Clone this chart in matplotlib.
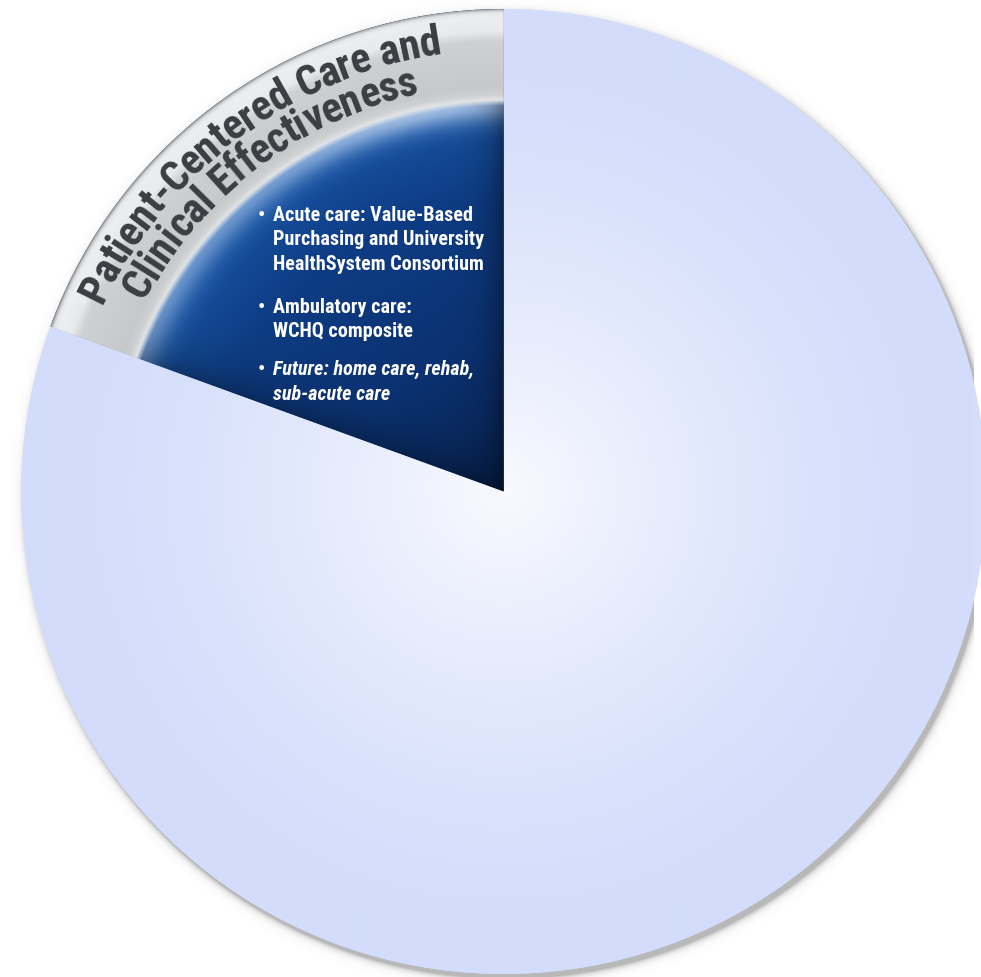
import numpy as np
import matplotlib
matplotlib.use("Agg")
import matplotlib.pyplot as plt
from matplotlib import font_manager
from matplotlib.font_manager import FontProperties
from matplotlib.textpath import TextToPath

# ---------------- data ----------------
segment_names = ["Patient-Centered Care and Clinical Effectiveness", "Other dimensions"]
segment_degrees = [70, 290]
rim_title = ["Patient-Centered Care and", "Clinical Effectiveness"]
bullet_items = [
    ["Acute care: Value-Based", "Purchasing and University", "HealthSystem Consortium"],
    ["Ambulatory care:", "WCHQ composite"],
    ["Future: home care, rehab,", "sub-acute care"],
]
bullet_italic = [False, False, True]

# ---------------- layout ----------------
W, H, DPI = 981, 978, 100
CX, CY = 504.0, 492.5
RX, RY = 490.0, 482.5
RPIX = 485.0

names = {f.name for f in font_manager.fontManager.ttflist}
COND = "Roboto Condensed" if "Roboto Condensed" in names else "DejaVu Sans"

fig = plt.figure(figsize=(W / DPI, H / DPI), dpi=DPI)
ax = fig.add_axes([0, 0, 1, 1])
wedges, _ = ax.pie(segment_degrees, startangle=90, counterclock=True, radius=1.0,
                   colors=["#0e3b80", "#d5defb"], wedgeprops=dict(linewidth=0))
ax.set_aspect("auto")
xmin, xmax = -CX / RX, (W - CX) / RX
ymin, ymax = (CY - H) / RY, CY / RY
ax.set_xlim(xmin, xmax)
ax.set_ylim(ymin, ymax)
ax.axis("off")
ext = (xmin, xmax, ymin, ymax)


def px2d(px, py):
    return (px - CX) / RX, (CY - py) / RY


Xp = np.arange(W) + 0.5
Yp = np.arange(H) + 0.5
XX, YY = np.meshgrid(Xp, Yp)
U = (XX - CX) / RX
V = (CY - YY) / RY
R = np.hypot(U, V)
T = np.degrees(np.arctan2(V, U)) % 360

# ---------------- shadow ----------------
Rs = np.hypot((XX - CX - 3) / RX, (CY + 4.5 - YY) / RY)
dpx = (Rs - 1.0) * RPIX
sh_a = np.where(dpx > 0, 0.5 * np.exp(-dpx / 3.0), 0.5)
shadow = np.zeros((H, W, 4))
shadow[..., :3] = 0.45
shadow[..., 3] = sh_a
ax.imshow(shadow, extent=ext, origin="upper", zorder=0.5, interpolation="bilinear")
for w in wedges:
    w.set_zorder(1)

# ---------------- light region gradient ----------------
edge = np.array([211, 221, 251]) / 255.0
center = np.array([249, 250, 255]) / 255.0
wgt = np.clip(1 - R / 0.92, 0, 1) ** 1.4
light = edge + (center - edge) * wgt[..., None]
im1 = ax.imshow(light, extent=ext, origin="upper", zorder=2, interpolation="bilinear")
im1.set_clip_path(wedges[1])

# ---------------- dark wedge with rim ----------------
rk = [0.0, 0.3, 0.6, 0.72, 0.80]
cols = np.array([[8, 36, 84], [11, 50, 114], [14, 60, 132], [20, 74, 150], [40, 100, 178]]) / 255.0
B = np.stack([np.interp(R, rk, cols[:, i]) for i in range(3)], axis=-1)
amp = 0.45 + 0.35 * np.exp(-((T - 100) / 22.0) ** 2)
glow = amp * np.exp(-((R - 0.805) / 0.035) ** 2)
B = B + (np.array([190, 212, 240]) / 255.0 - B) * glow[..., None]
d1 = R * np.sin(np.radians(T - 90)) * RPIX
d2 = R * np.sin(np.radians(160 - T)) * RPIX
fac = (1 - 0.42 * np.exp(-np.clip(d1, 0, None) / 16)) * (1 - 0.3 * np.exp(-np.clip(d2, 0, None) / 22))
B = B * fac[..., None]
p = (1 - R) * RPIX
gk = [0, 1.5, 3.5, 7, 22, 32, 78, 86, 92]
gv = [150, 196, 230, 240, 236, 210, 202, 210, 232]
G = np.interp(p, gk, gv) / 255.0
G = np.stack([G * 0.985, G * 0.992, G * 1.0], axis=-1)
a = np.clip((R - 0.800) / 0.012, 0, 1)
D = np.clip(B * (1 - a[..., None]) + G * a[..., None], 0, 1)
im2 = ax.imshow(D, extent=ext, origin="upper", zorder=2, interpolation="bilinear")
im2.set_clip_path(wedges[0])

# ---------------- curved rim title ----------------
t2p = TextToPath()


def advance(c, prop):
    w3 = t2p.get_text_width_height_descent("n" + c + "n", prop, ismath=False)[0]
    w2 = t2p.get_text_width_height_descent("nn", prop, ismath=False)[0]
    return (w3 - w2) * DPI / 72.0


RIM_FS = 30.5
TRACK = 0.96
rim_prop = FontProperties(family=COND, weight="bold", size=RIM_FS)
rim_specs = [(rim_title[0], 0.918, 155.0, 98.0), (rim_title[1], 0.845, 152.0, 102.0)]
for text, rr, a0, a1 in rim_specs:
    widths = [advance(c, rim_prop) * TRACK for c in text]
    total = sum(widths)
    L = np.radians(a0 - a1) * rr * RPIX
    fs = RIM_FS
    k = L / total
    if k < 1.0:
        fs = RIM_FS * k
        widths = [w * k for w in widths]
        k = 1.0
    cursor = a0
    for c, wc in zip(text, widths):
        adv = wc * k
        ang = cursor - np.degrees(adv / 2 / (rr * RPIX))
        ax.text(rr * np.cos(np.radians(ang)), rr * np.sin(np.radians(ang)), c,
                rotation=ang - 90, rotation_mode="anchor", ha="center", va="baseline",
                fontfamily=COND, fontweight="bold", fontsize=fs,
                color="#3b3d43", zorder=5)
        cursor -= np.degrees(adv / (rr * RPIX))

# ---------------- bullets ----------------
bprop = FontProperties(family=COND, weight="bold", size=10)
wref = t2p.get_text_width_height_descent(bullet_items[0][1], bprop, ismath=False)[0] * DPI / 72.0
bfs = 10.0 * 211.0 / wref
baselines = [[221, 245, 270], [313, 337], [375, 400]]
for lines, it, bl in zip(bullet_items, bullet_italic, baselines):
    bx, by = px2d(258, bl[0])
    ax.text(bx, by, "\u2022", ha="center", va="baseline", fontfamily=COND,
            fontweight="bold", fontsize=bfs, color="white", zorder=5)
    for ln, yb in zip(lines, bl):
        x, y = px2d(270, yb)
        ax.text(x, y, ln, ha="left", va="baseline", fontfamily=COND, fontweight="bold",
                style="italic" if it else "normal", fontsize=bfs,
                color="white", zorder=5)

fig.savefig("out.png", dpi=DPI)
